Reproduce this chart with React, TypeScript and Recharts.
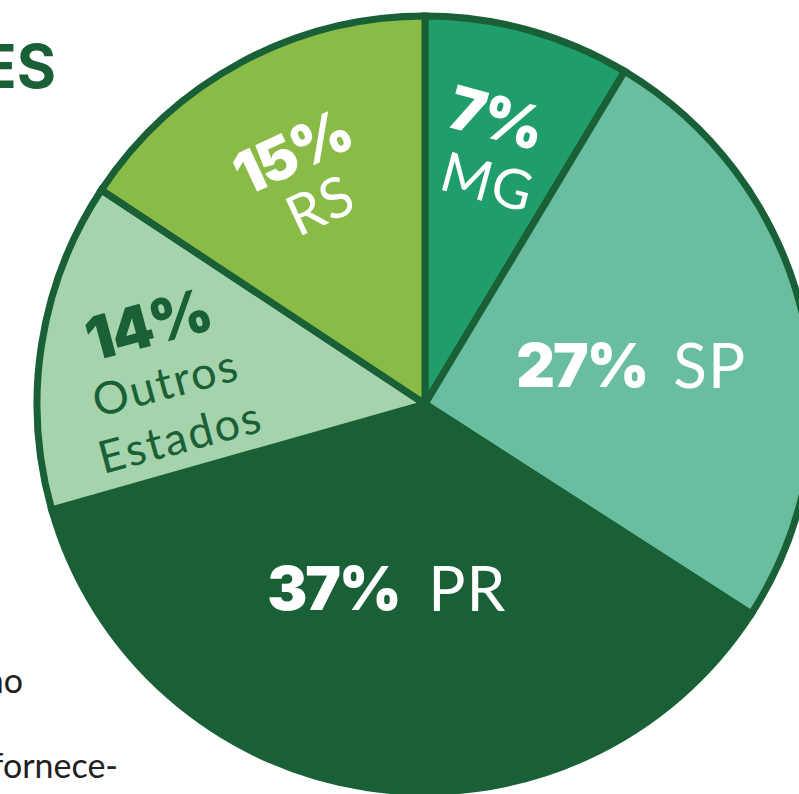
import { PieChart, Pie, Cell } from 'recharts'

// Share of suppliers by state
const STATES = ['MG', 'SP', 'PR', 'Outros Estados', 'RS']
const LABEL_PCT = ['7%', '27%', '37%', '14%', '15%']
// slice sizes as they are drawn in the figure (angle share, %)
const SHARES = [8.6, 25.5, 36.5, 13.7, 15.7]
const COLORS = ['#1f9d6a', '#68be9e', '#1a6036', '#a5d3ab', '#8abb47']

const BORDER = '#1a6036'
const FONT = 'Lato, "Open Sans", sans-serif'
const BOLD_FONT = 'Inter, Lato, sans-serif'

const data = STATES.map((name, i) => ({ name, value: SHARES[i], pct: LABEL_PCT[i] }))

// label layout per slice: radius, angle nudge, rotation, lines in local frame
type Line = { text: string; bold?: boolean; fs: number; x: number; y: number; ls?: number }
const LAYOUT: { r: number; da: number; rot: number; color: string; lines: (d: any) => Line[] }[] = [
  {
    r: 263, da: 1, rot: 15, color: '#fff',
    lines: d => [
      { text: d.pct, bold: true, fs: 60, x: -3, y: -32 },
      { text: d.name, fs: 55, x: 5, y: 32, ls: 1 },
    ],
  },
  {
    r: 224, da: -3.3, rot: 0, color: '#fff',
    lines: d => [
      { text: d.pct, bold: true, fs: 60, x: -64, y: 0 },
      { text: d.name, fs: 62, x: 64, y: 0, ls: 1 },
    ],
  },
  {
    r: 186, da: 0.85, rot: 0, color: '#fff',
    lines: d => [
      { text: d.pct, bold: true, fs: 60, x: -67, y: 0 },
      { text: d.name, fs: 62, x: 67, y: 0, ls: 1 },
    ],
  },
  {
    r: 261, da: 3.7, rot: -15, color: BORDER,
    lines: d => [
      { text: d.pct, bold: true, fs: 60, x: -2, y: -59 },
      { text: 'Outros', fs: 45, x: 0, y: 2, ls: 2 },
      { text: 'Estados', fs: 45, x: 0, y: 58, ls: 2 },
    ],
  },
  {
    r: 255, da: -0.45, rot: -25, color: '#fff',
    lines: d => [
      { text: d.pct, bold: true, fs: 59, x: -1.5, y: -30 },
      { text: d.name, fs: 56, x: 1.5, y: 30, ls: 1 },
    ],
  },
]

const RAD = Math.PI / 180

function SliceLabel(props: any) {
  const { cx, cy, midAngle, index, payload } = props
  const cfg = LAYOUT[index]
  const a = (midAngle + cfg.da) * RAD
  const x = cx + cfg.r * Math.cos(a)
  const y = cy - cfg.r * Math.sin(a)
  const d = payload && payload.pct ? payload : data[index]
  return (
    <g transform={`translate(${x},${y}) rotate(${cfg.rot})`}>
      {cfg.lines(d).map((l, i) => (
        <text
          key={i}
          x={l.x}
          y={l.y}
          dy={l.fs * 0.36}
          textAnchor="middle"
          fill={cfg.color}
          fontFamily={l.bold ? BOLD_FONT : FONT}
          fontWeight={l.bold ? 900 : 400}
          fontSize={l.fs}
          letterSpacing={l.bold ? -2 : l.ls ?? 0}
        >
          {l.text}
        </text>
      ))}
    </g>
  )
}

export default function App() {
  return (
    <div
      style={{
        position: 'absolute', left: 0, top: 0, width: 799, height: 794,
        overflow: 'hidden', background: '#fff',
      }}
    >
      {/* bits of the surrounding page text */}
      <svg width={799} height={794} style={{ position: 'absolute', left: 0, top: 0 }}>
        <text x={56} y={88} textAnchor="end" fill={BORDER} fontFamily={BOLD_FONT} fontWeight={700} fontSize={60}>
          ES
        </text>
        <text x={23} y={693} textAnchor="end" fill="#231f20" fontFamily={FONT} fontSize={34}>
          no
        </text>
        <text x={118} y={778} textAnchor="end" fill="#231f20" fontFamily={FONT} fontSize={34}>
          fornece-
        </text>
      </svg>
      <div style={{ position: 'absolute', left: 0, top: 0 }}>
        <PieChart width={799} height={794} margin={{ top: 0, right: 0, bottom: 0, left: 0 }}>
          <Pie
            data={data}
            dataKey="value"
            nameKey="name"
            cx={425}
            cy={404}
            innerRadius={0}
            outerRadius={388}
            startAngle={90}
            endAngle={-270}
            stroke={BORDER}
            strokeWidth={7}
            labelLine={false}
            label={SliceLabel}
            isAnimationActive={false}
          >
            {data.map((d, i) => (
              <Cell key={d.name} fill={COLORS[i]} />
            ))}
          </Pie>
        </PieChart>
      </div>
    </div>
  )
}
